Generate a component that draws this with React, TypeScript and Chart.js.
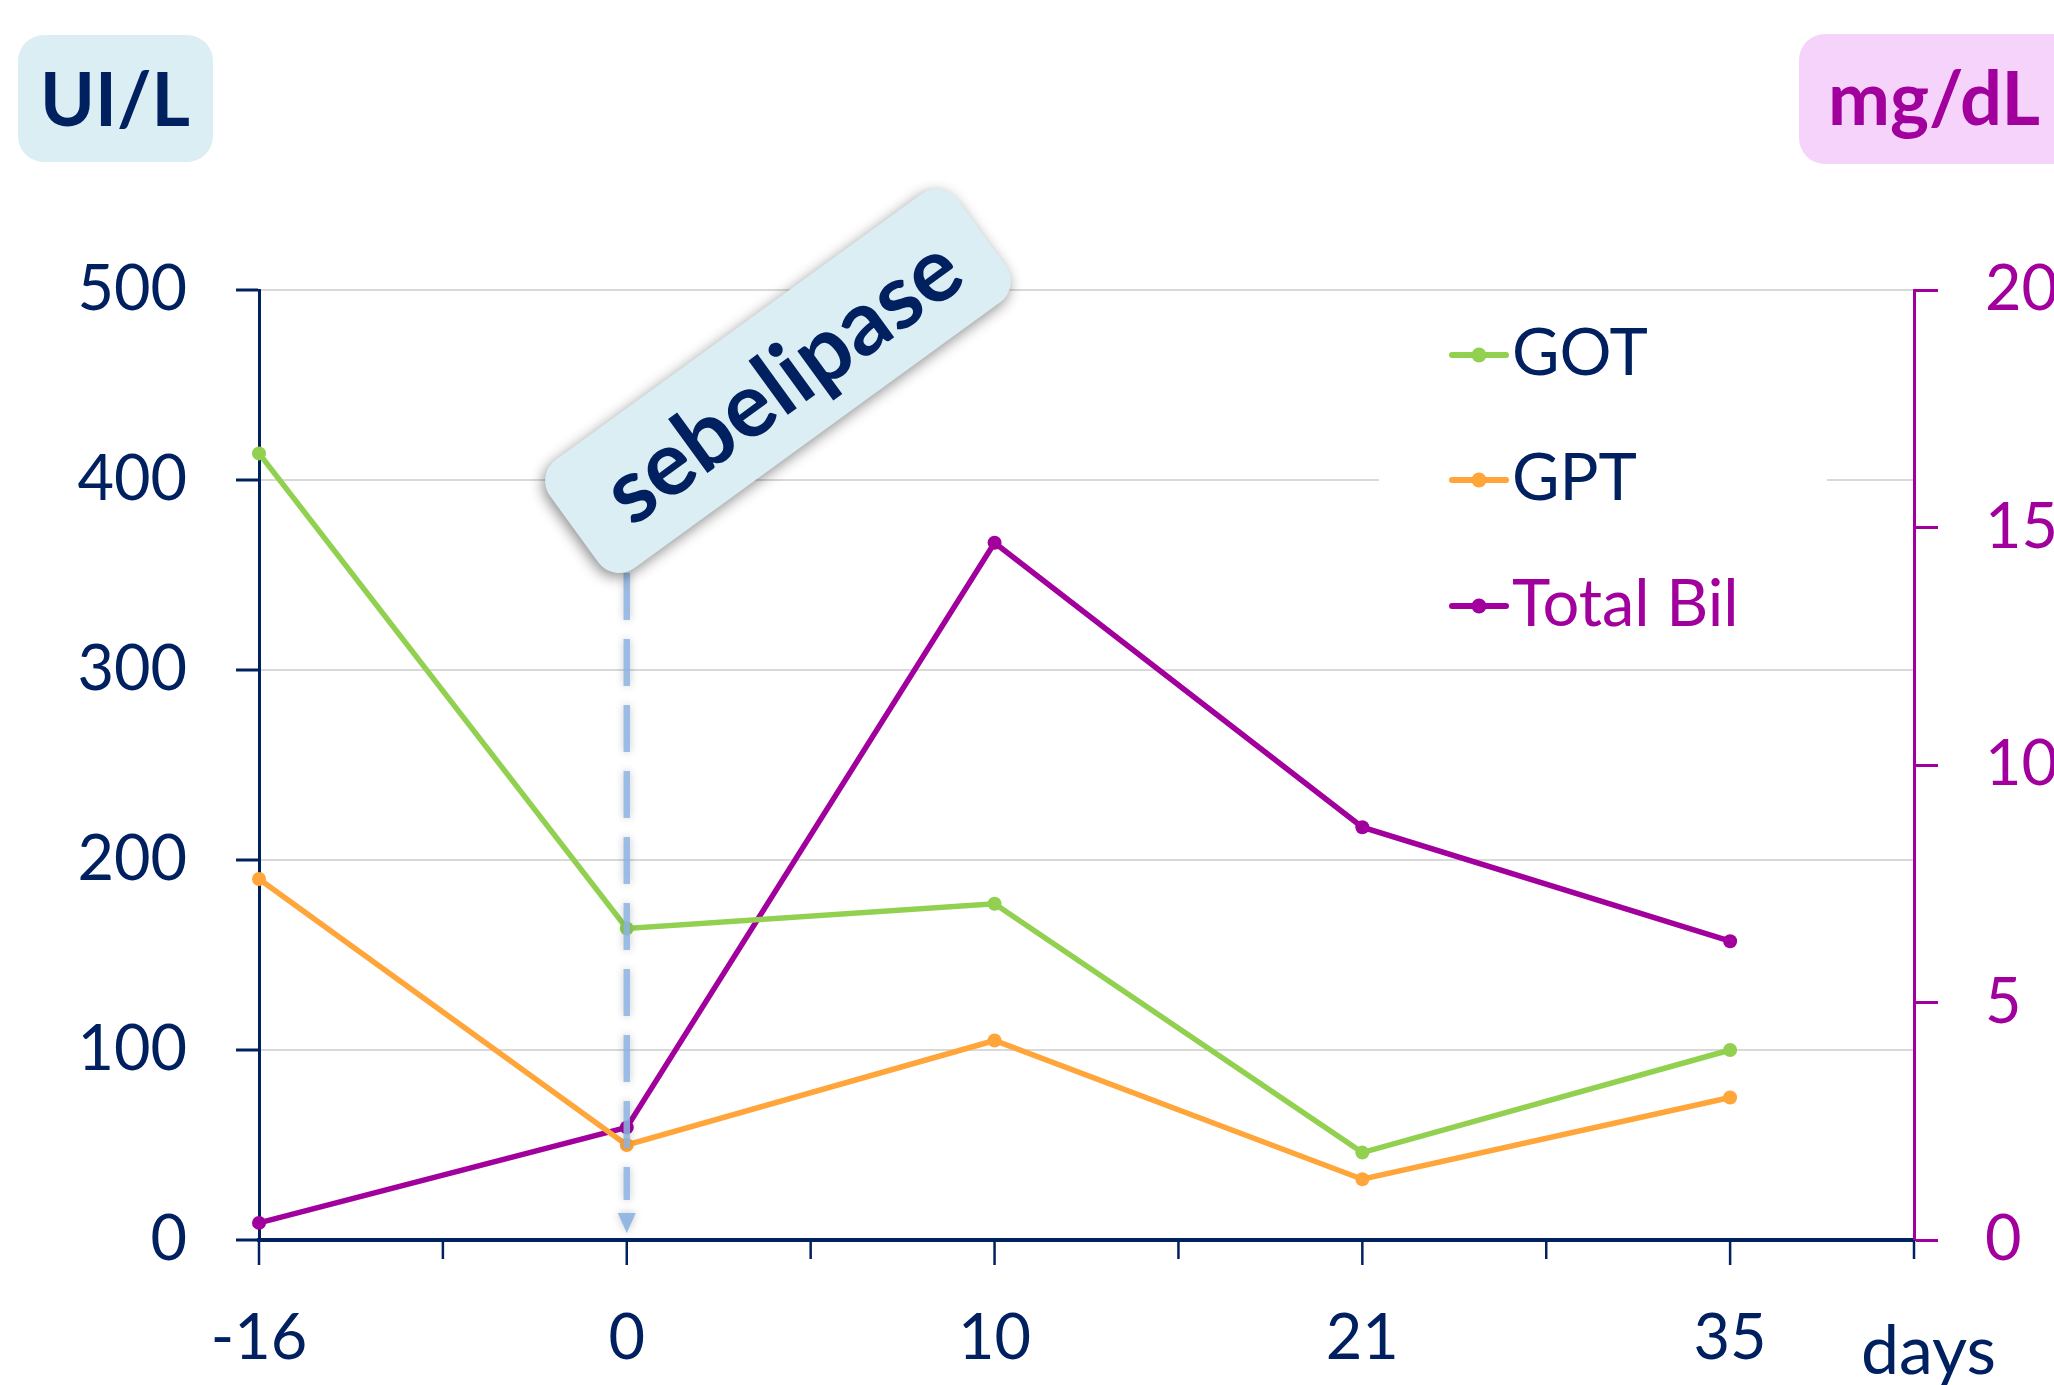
import React, { useEffect, useRef } from 'react';
import { Chart, registerables } from 'chart.js';

Chart.register(...registerables);

// ---- data ----
const dayLabels = ['-16', '0', '10', '21', '35'];
const gotValues = [414, 164, 177, 46, 100];
const gptValues = [190, 50, 105, 32, 75];
const bilValues = [0.36, 2.37, 14.68, 8.69, 6.29];
const seriesNames = ['GOT', 'GPT', 'Total Bil'];
const seriesColors = ['#92D050', '#FFA53A', '#A1009D'];
const leftUnit = 'UI/L';
const rightUnit = 'mg/dL';
const xUnit = 'days';
const eventLabel = 'sebelipase';
const eventDayIndex = 1;

const NAVY = '#002060';
const PURPLE = '#A1009D';
const FONT = 'Lato, "Open Sans", sans-serif';
const TICK_SIZE = 63;

function roundRect(ctx: CanvasRenderingContext2D, x: number, y: number, w: number, h: number, r: number) {
  ctx.beginPath();
  ctx.moveTo(x + r, y);
  ctx.arcTo(x + w, y, x + w, y + h, r);
  ctx.arcTo(x + w, y + h, x, y + h, r);
  ctx.arcTo(x, y + h, x, y, r);
  ctx.arcTo(x, y, x + w, y, r);
  ctx.closePath();
}

const decorPlugin = {
  id: 'decor',
  beforeDatasetsDraw(chart: any) {
    const ctx = chart.ctx as CanvasRenderingContext2D;
    ctx.save();
    ctx.fillStyle = '#ffffff';
    ctx.fillRect(1379, 300, 448, 360);
    ctx.restore();
  },
  afterDatasetsDraw(chart: any) {
    const ctx = chart.ctx as CanvasRenderingContext2D;
    const xs = chart.scales.x;
    const area = chart.chartArea;
    ctx.save();
    ctx.strokeStyle = NAVY;
    ctx.lineWidth = 2.5;
    xs.ticks.forEach((t: any) => {
      const px = xs.getPixelForValue(t.value);
      const len = Number.isInteger(t.value) ? 25 : 19;
      ctx.beginPath();
      ctx.moveTo(px, area.bottom);
      ctx.lineTo(px, area.bottom + len);
      ctx.stroke();
    });
    ctx.restore();

    const ax = xs.getPixelForValue(eventDayIndex);
    ctx.save();
    ctx.shadowColor = 'rgba(0,0,0,0.25)';
    ctx.shadowBlur = 8;
    ctx.strokeStyle = 'rgba(141,180,226,0.85)';
    ctx.lineWidth = 6.5;
    ctx.setLineDash([47, 19]);
    ctx.beginPath();
    ctx.moveTo(ax, 573);
    ctx.lineTo(ax, 1200);
    ctx.stroke();
    ctx.setLineDash([]);
    ctx.fillStyle = 'rgba(141,180,226,0.9)';
    ctx.beginPath();
    ctx.moveTo(ax - 9, 1213);
    ctx.lineTo(ax + 9, 1213);
    ctx.lineTo(ax, 1233);
    ctx.closePath();
    ctx.fill();
    ctx.restore();
  },
  afterDraw(chart: any) {
    const ctx = chart.ctx as CanvasRenderingContext2D;

    ctx.save();
    ctx.fillStyle = '#DAEEF3';
    roundRect(ctx, 18, 35, 195, 127, 26);
    ctx.fill();
    ctx.fillStyle = '#F5D3FB';
    roundRect(ctx, 1799, 34, 300, 130, 26);
    ctx.fill();
    ctx.font = `bold 74px ${FONT}`;
    ctx.textBaseline = 'alphabetic';
    ctx.fillStyle = NAVY;
    ctx.textAlign = 'center';
    ctx.fillText(leftUnit, 115, 126);
    ctx.fillStyle = PURPLE;
    ctx.textAlign = 'left';
    ctx.fillText(rightUnit, 1828, 125);
    ctx.restore();

    ctx.save();
    ctx.translate(778, 381);
    ctx.rotate(-36 * Math.PI / 180);
    ctx.shadowColor = 'rgba(0,0,0,0.45)';
    ctx.shadowBlur = 14;
    ctx.shadowOffsetX = -2;
    ctx.shadowOffsetY = 4;
    ctx.fillStyle = '#DAEEF3';
    roundRect(ctx, -252, -67, 504, 134, 26);
    ctx.fill();
    ctx.shadowColor = 'transparent';
    ctx.fillStyle = NAVY;
    ctx.font = `bold 90px ${FONT}`;
    ctx.textAlign = 'center';
    ctx.textBaseline = 'middle';
    ctx.fillText(eventLabel, 4, 4);
    ctx.restore();

    ctx.save();
    const ly = [355, 480, 606];
    seriesNames.forEach((name, i) => {
      const y = ly[i];
      ctx.strokeStyle = seriesColors[i];
      ctx.lineWidth = 6;
      ctx.lineCap = 'round';
      ctx.beginPath();
      ctx.moveTo(1452, y);
      ctx.lineTo(1506, y);
      ctx.stroke();
      ctx.fillStyle = seriesColors[i];
      ctx.beginPath();
      ctx.arc(1479, y, 7.5, 0, Math.PI * 2);
      ctx.fill();
      ctx.font = `${TICK_SIZE + 2}px ${FONT}`;
      ctx.textAlign = 'left';
      ctx.textBaseline = 'alphabetic';
      ctx.fillStyle = i === 2 ? PURPLE : NAVY;
      ctx.fillText(name, 1512, y + 20);
    });
    ctx.restore();

    ctx.save();
    ctx.font = `${TICK_SIZE + 5}px ${FONT}`;
    ctx.fillStyle = NAVY;
    ctx.textAlign = 'left';
    ctx.textBaseline = 'alphabetic';
    ctx.fillText(xUnit, 1861, 1374);
    ctx.restore();
  },
};

export default function App() {
  const canvasRef = useRef<HTMLCanvasElement | null>(null);

  useEffect(() => {
    document.body.style.margin = '0';
    const canvas = canvasRef.current;
    if (!canvas) return;
    const toPts = (vals: number[]) => vals.map((v, i) => ({ x: i, y: v }));
    const mk = (label: string, vals: number[], color: string, axis: string) => ({
      label,
      data: toPts(vals),
      yAxisID: axis,
      borderColor: color,
      backgroundColor: color,
      borderWidth: 5.5,
      pointRadius: 7,
      pointBorderWidth: 0,
      pointBackgroundColor: color,
      tension: 0,
      clip: false as any,
    });
    const chart = new Chart(canvas, {
      type: 'line',
      data: {
        datasets: [
          mk(seriesNames[0], gotValues, seriesColors[0], 'y'),
          mk(seriesNames[1], gptValues, seriesColors[1], 'y'),
          mk(seriesNames[2], bilValues, seriesColors[2], 'y2'),
        ],
      },
      options: {
        animation: false,
        responsive: false,
        devicePixelRatio: 1,
        layout: { padding: { top: 290, left: 0, right: 0, bottom: 0 } },
        plugins: { legend: { display: false }, tooltip: { enabled: false } },
        scales: {
          x: {
            type: 'linear',
            min: 0,
            max: dayLabels.length - 0.5,
            grid: { display: false },
            border: { display: true, color: NAVY, width: 4 },
            ticks: {
              stepSize: 0.5,
              autoSkip: false,
              maxRotation: 0,
              padding: 53,
              color: NAVY,
              font: { family: FONT, size: TICK_SIZE },
              callback: (v: any) => (Number.isInteger(v) ? dayLabels[v] ?? '' : ''),
            },
            afterFit: (s: any) => { s.height = 145; },
          },
          y: {
            position: 'left',
            min: 0,
            max: 500,
            grid: { color: '#D9D9D9', lineWidth: 2, tickColor: NAVY, tickLength: 23, tickWidth: 3 },
            border: { display: true, color: NAVY, width: 3 },
            ticks: {
              stepSize: 100,
              padding: 49,
              color: NAVY,
              font: { family: FONT, size: TICK_SIZE },
            },
            afterFit: (s: any) => { s.width = 259; },
          },
          y2: {
            position: 'right',
            min: 0,
            max: 20,
            grid: { drawOnChartArea: false, tickColor: PURPLE, tickLength: 24, tickWidth: 3 },
            border: { display: true, color: PURPLE, width: 3 },
            ticks: {
              stepSize: 5,
              padding: 47,
              color: PURPLE,
              font: { family: FONT, size: TICK_SIZE },
            },
            afterFit: (s: any) => { s.width = 140; },
          },
        },
      },
      plugins: [decorPlugin],
    });
    return () => chart.destroy();
  }, []);

  return (
    <div style={{ position: 'absolute', left: 0, top: 0, width: 2054, height: 1385, background: '#fff' }}>
      <canvas ref={canvasRef} width={2054} height={1385} style={{ display: 'block', width: 2054, height: 1385 }} />
    </div>
  );
}
